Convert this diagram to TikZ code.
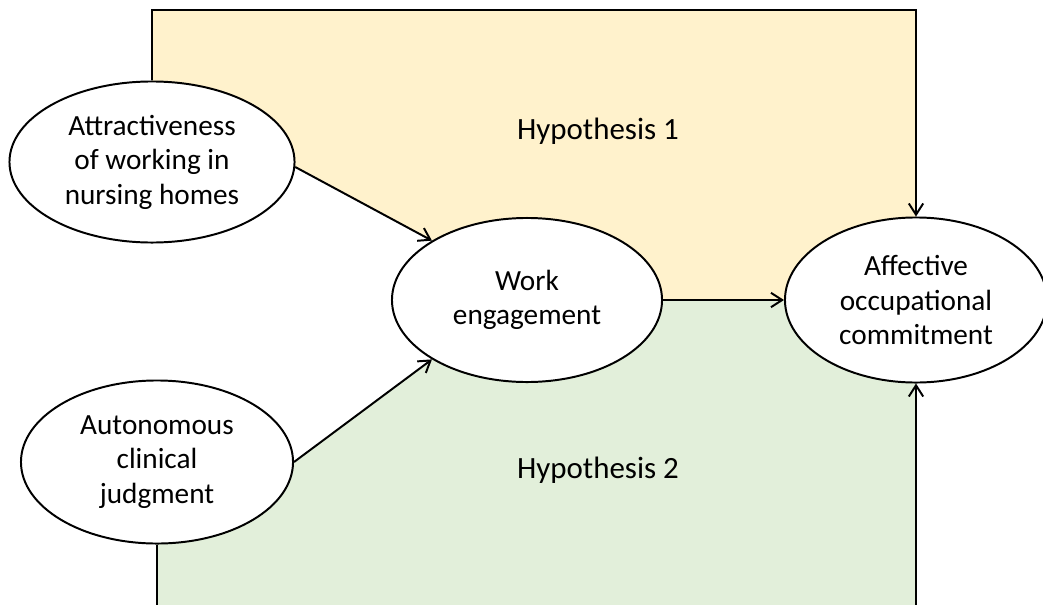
\documentclass[tikz,border=0pt]{standalone}
\usepackage{fontspec}
\setmainfont{Carlito}
\usepackage{xcolor}
\usepackage{tikz}
\usetikzlibrary{positioning, calc, shapes.geometric, arrows.meta, backgrounds}

\definecolor{hypyellow}{RGB}{255,242,204}
\definecolor{hypgreen}{RGB}{226,239,218}

\tikzset{
  construct/.style={ellipse, draw=black, line width=1.4pt, fill=white,
    inner sep=0pt, align=center, font=\fontsize{20.8}{24.5}\selectfont},
  hyplabel/.style={font=\fontsize{22}{26}\selectfont},
  link/.style={line width=1.4pt,
    -{Straight Barb[length=2.8mm, width=3.6mm, line width=1.4pt]}},
}

\begin{document}
\begin{tikzpicture}[x=0.025cm, y=-0.025cm]
    \useasboundingbox (0, 0) rectangle (1043, 604);
    \clip (0, 0) rectangle (1043, 604);

    % The constructs
    \node[construct, minimum width=7.125cm, minimum height=4.025cm] (att) at (152, 162)
      {Attractiveness\\of working in\\nursing homes};
    \node[construct, minimum width=6.8cm, minimum height=4.075cm] (aut) at (157, 462)
      {Autonomous\\clinical\\judgment};
    \node[construct, minimum width=6.75cm, minimum height=4.1cm] (we) at (527, 300)
      {Work\\engagement};
    \node[construct, minimum width=6.55cm, minimum height=4.125cm] (aff) at (916, 300)
      {Affective\\occupational\\commitment};

    \coordinate (top) at (aff.north |- 0, 10);
    \coordinate (bot) at (aff.south |- 0, 640);

    % The shaded areas
    \begin{scope}[on background layer]
      \fill[hypyellow] (att.center) -- (att.center |- top) -- (top) -- (aff.center)
        -- (we.center) -- (we.148) -- (att.-2) -- cycle;
      \fill[hypgreen] (aut.center) -- (aut.center |- bot) -- (bot) -- (aff.center)
        -- (we.center) -- (we.212) -- (aut.east) -- cycle;
    \end{scope}

    % The paths
    \draw[link] (att.-2) -- (we.148);
    \draw[link] (aut.east) -- (we.212);
    \draw[link] (we) -- (aff);
    \draw[link] (att.north) |- (top) -- (aff.north);
    \draw[link] (aut.south) |- (bot) -- (aff.south);

    % The labels
    \node[hyplabel] (h1) at (598, 131) {Hypothesis 1};
    \node[hyplabel] (h2) at (598, 470) {Hypothesis 2};
\end{tikzpicture}
\end{document}
